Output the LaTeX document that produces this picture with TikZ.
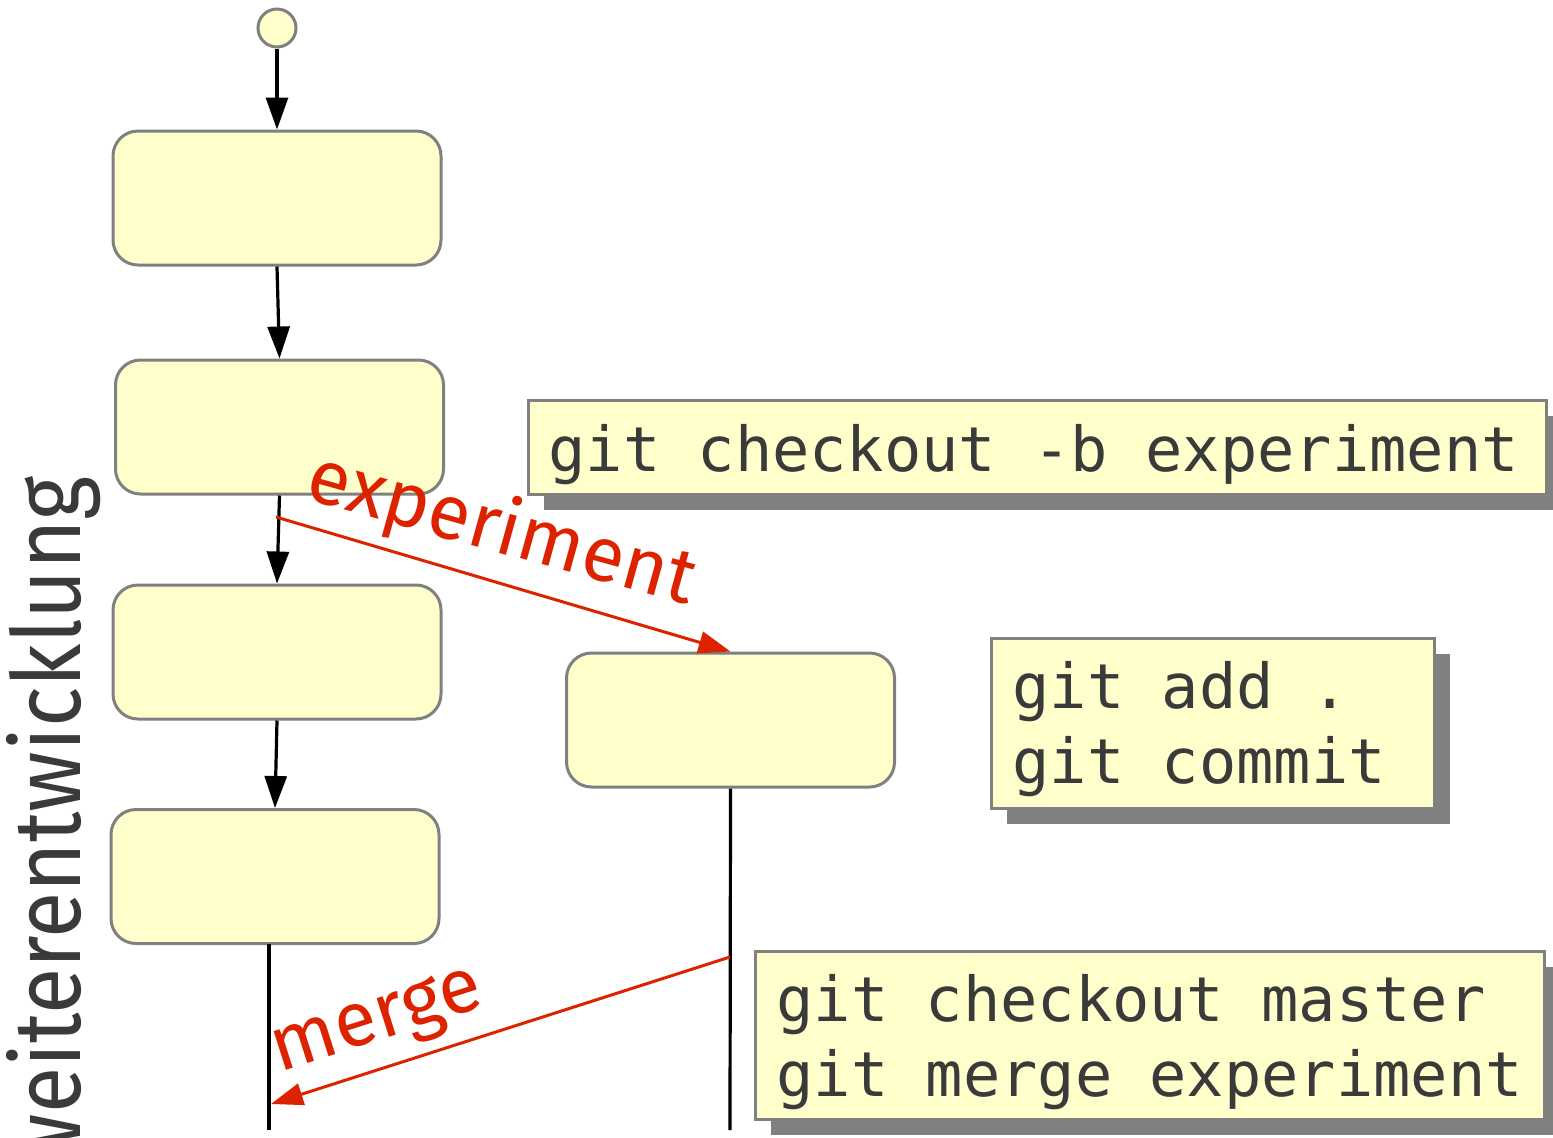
\documentclass[tikz,border=0pt]{standalone}
\usepackage{fontspec}
\setmainfont{Fira Sans}
\setmonofont{DejaVu Sans Mono}
\newfontfamily\axisfont[FakeStretch=0.89]{Fira Sans}
\usetikzlibrary{arrows.meta,shadows,calc}
\definecolor{notefill}{RGB}{255,255,204}
\definecolor{edgegray}{RGB}{128,128,128}
\definecolor{inkgray}{RGB}{58,58,58}
\definecolor{branchred}{RGB}{221,34,0}
\begin{document}
\begin{tikzpicture}[x=0.5pt,y=-0.5pt,
  state/.style={draw=edgegray, line width=1.5pt, fill=notefill, rounded corners=12.5pt,
    minimum width=164pt, minimum height=67pt, inner sep=0pt},
  start/.style={draw=edgegray, line width=1.5pt, fill=notefill, circle, minimum size=19pt, inner sep=0pt},
  cmdbox/.style={draw=edgegray, line width=1.5pt, fill=notefill, inner sep=0pt,
    drop shadow={shadow xshift=8pt, shadow yshift=-8pt, fill=edgegray, opacity=1}},
  cmd/.style={font=\fontsize{31pt}{37.5pt}\selectfont\ttfamily, text=inkgray, anchor=north west,
    align=left, inner sep=0pt, execute at begin node={\rule{0pt}{24pt}}},
  flow/.style={line width=1.6pt, -{Triangle[length=16pt,width=11pt]}},
  plain/.style={line width=1.6pt},
  branch/.style={draw=branchred, line width=1.5pt, -{Triangle[length=16pt,width=11pt]}},
  tag/.style={font=\fontsize{38.5pt}{46pt}\selectfont, text=branchred, inner sep=0pt, anchor=base},
]
\useasboundingbox (0,0) rectangle (1553,1137);

% command notes with drop shadows
\node[cmdbox, minimum width=509pt, minimum height=47pt] (boxA) at (1037,447) {};
\node[cmd] (cmdA) at (548,423) {git checkout -b experiment};
\node[cmdbox, minimum width=221.5pt, minimum height=85pt] (boxB) at (1212.5,723) {};
\node[cmd] (cmdB) at (1012,661) {git add .\\git commit};
\node[cmdbox, minimum width=394.5pt, minimum height=84pt] (boxC) at (1149.5,1035) {};
\node[cmd] (cmdC) at (776,974) {git checkout master\\git merge experiment};

% master line
\node[start] (init) at (277,28) {};
\node[state] (s1) at (277,198) {};
\node[state] (s2) at (279.5,427) {};
\node[state] (s3) at (277,652) {};
\node[state] (s4) at (275,876.5) {};
\coordinate (s4low) at (269,944);
\coordinate (s4end) at (269,1130);

% experiment branch
\node[state] (s5) at (730.5,720) {};
\coordinate (s5end) at (730,1130);

\draw[flow] (init) -- (s1);
\draw[flow] (s1.south) -- (s2.north);
\draw[flow] (s2.south) -- (s3.north);
\draw[flow] (s3.south) -- (s4.north);
\draw[plain] (s4low) -- (s4end);
\draw[plain] (s5.south) -- (s5end);

% branch and merge
\coordinate (fork) at (276,517);
\coordinate (mergefrom) at (730,957);
\coordinate (mergeto) at (271,1104);
\draw[branch] (fork) -- (s5.north);
\draw[branch] (mergefrom) -- (mergeto);
\node[tag, rotate=-15.5] (exptag) at (496,552) {experiment};
\node[tag, rotate=17.7] (mergetag) at (383,1039) {merge};

% axis caption
\node[font=\fontsize{47.5pt}{57pt}\axisfont, text=inkgray, rotate=90, anchor=base east,
  inner sep=0pt] (axis) at (80,476) {weiterentwicklung};
\end{tikzpicture}
\end{document}
